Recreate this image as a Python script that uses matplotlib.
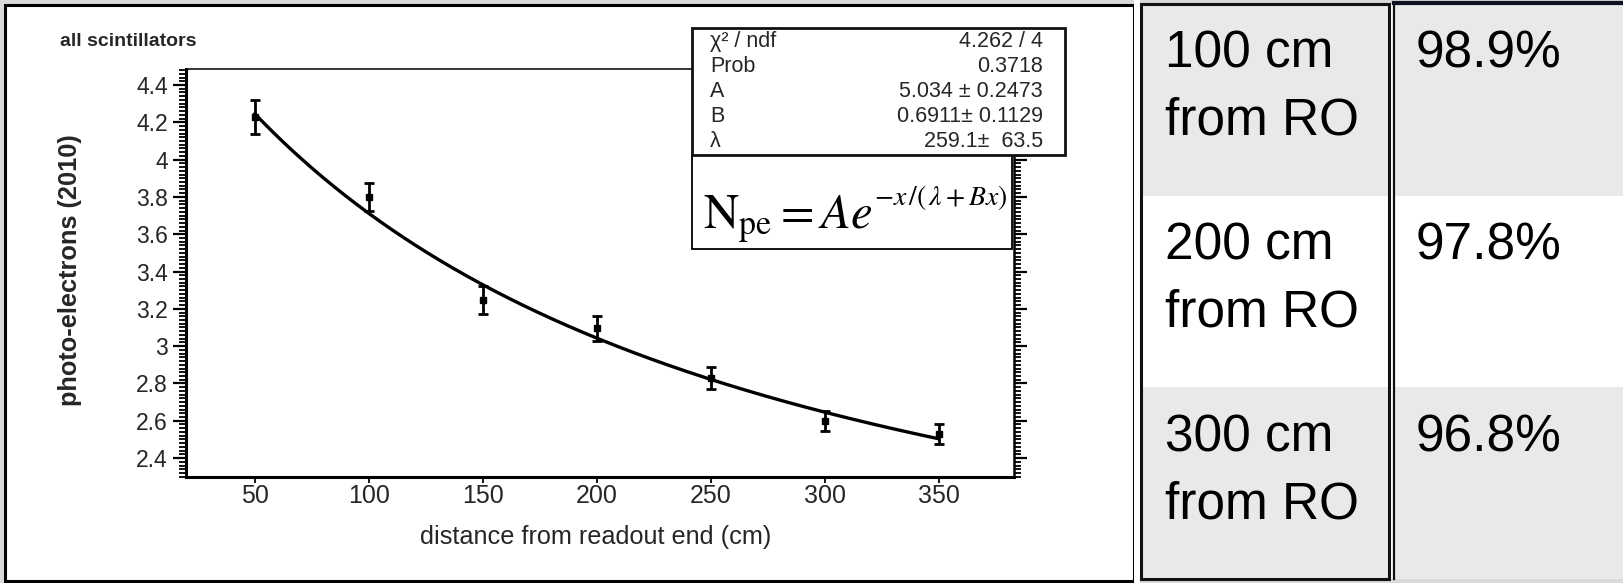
import numpy as np
import matplotlib
matplotlib.use('Agg')
import matplotlib.pyplot as plt
from matplotlib.patches import Rectangle
from matplotlib.ticker import MultipleLocator, FormatStrFormatter

# measured photo-electron yield vs distance from the readout end
distance_cm = [50, 100, 150, 200, 250, 300, 350]
photo_electrons = [4.227, 3.798, 3.25, 3.095, 2.829, 2.597, 2.530]
pe_errors = [0.091, 0.076, 0.075, 0.065, 0.061, 0.054, 0.055]

# fit result: N_pe = A * exp(-x / (lambda + B*x))
fit_A = 5.034
fit_B = 0.6911
fit_lambda = 259.1
stats_labels = ['χ² / ndf', 'Prob', 'A', 'B', 'λ']
stats_values = ['4.262 / 4', '0.3718', '5.034 ± 0.2473', '0.6911± 0.1129', '259.1±  63.5']

# efficiency table on the right
table_positions = ['100 cm\nfrom RO', '200 cm\nfrom RO', '300 cm\nfrom RO']
table_efficiency = ['98.9%', '97.8%', '96.8%']

plt.rcParams['font.family'] = ['Liberation Sans', 'DejaVu Sans']
plt.rcParams['mathtext.fontset'] = 'stix'

W, H = 1623, 583
fig = plt.figure(figsize=(W / 100, H / 100), dpi=100, facecolor='#d9d9d9')


def px_rect(x0, y0, x1, y1):
    # pixel box measured from the top-left corner -> figure fraction
    return [x0 / W, 1 - y1 / H, (x1 - x0) / W, (y1 - y0) / H]


# white panel around the plot (behind the axes)
fig.patches.append(Rectangle((5 / W, 2 / H), 1129 / W, 576 / H, transform=fig.transFigure,
                             facecolor='white', edgecolor='black', lw=2.2, zorder=-5))

AX_L, AX_T, AX_R, AX_B = 186, 69, 1014, 476.7
ax = fig.add_axes(px_rect(AX_L, AX_T, AX_R, AX_B))


def ax_xy(x, y):
    return (x - AX_L) / (AX_R - AX_L), (AX_B - y) / (AX_B - AX_T)


# fit curve
xs = np.linspace(distance_cm[0], distance_cm[-1], 300)
ys = fit_A * np.exp(-xs / (fit_lambda + fit_B * xs))
ax.plot(xs, ys, color='black', lw=2.4, zorder=3)

ax.errorbar(distance_cm, photo_electrons, yerr=pe_errors, fmt='s', ms=5, color='black',
            ecolor='black', elinewidth=2.0, capsize=3.5, capthick=2.0, zorder=4)

ax.set_xlim(19.8, 383)
ax.set_ylim(2.30, 4.486)
ax.xaxis.set_major_locator(MultipleLocator(50))
ax.yaxis.set_major_locator(MultipleLocator(0.2))
ax.yaxis.set_minor_locator(MultipleLocator(0.02))
ax.yaxis.set_major_formatter(FormatStrFormatter('%g'))

ax.tick_params(axis='y', which='both', direction='out', left=True, right=True,
               labelright=False, colors='black', labelcolor='#262626')
ax.tick_params(axis='y', which='major', length=9.5, width=1.6, labelsize=16.5, pad=3.5)
ax.tick_params(axis='y', which='minor', length=5, width=1.3)
ax.tick_params(axis='x', which='major', direction='out', length=4, width=1.3,
               labelsize=18, pad=1.5, labelcolor='#262626')
ax.tick_params(axis='x', which='minor', bottom=False)

ax.spines['left'].set_linewidth(2.2)
ax.spines['bottom'].set_linewidth(2.2)
ax.spines['right'].set_linewidth(1.8)
ax.spines['top'].set_linewidth(1.1)

ax.set_xlabel('distance from readout end (cm)', fontsize=18.2, color='#262626', va='center')
ax.xaxis.set_label_coords(*ax_xy(596, 536.7))
ax.set_ylabel('photo-electrons (2010)', fontsize=18.3, fontweight='bold', color='#262626',
              va='center')
ax.yaxis.set_label_coords(*ax_xy(70, 270))

fig.text(60 / W, 1 - 41 / H, 'all scintillators', fontsize=14, fontweight='bold',
         color='#262626', ha='left', va='center')

# stats box
sx0, sy0 = ax_xy(691.7, 155)
sx1, sy1 = ax_xy(1065, 28.3)
ax.add_patch(Rectangle((sx0, sy0), sx1 - sx0, sy1 - sy0, transform=ax.transAxes,
                       facecolor='white', edgecolor='#111111', lw=2.0, clip_on=False, zorder=10))
for i, (lab, val) in enumerate(zip(stats_labels, stats_values)):
    ry = 41.5 + i * 25
    ax.text(*ax_xy(710, ry), lab, transform=ax.transAxes, ha='left', va='center',
            fontsize=15.5, color='#262626', zorder=11)
    ax.text(*ax_xy(1043, ry), val, transform=ax.transAxes, ha='right', va='center',
            fontsize=15.5, color='#262626', zorder=11)

# formula box: base part large, exponent set separately a bit smaller
fx0, fy0 = ax_xy(691.7, 249.3)
fx1, fy1 = ax_xy(1012, 155)
ax.add_patch(Rectangle((fx0, fy0), fx1 - fx0, fy1 - fy0, transform=ax.transAxes,
                       facecolor='white', edgecolor='black', lw=1.3, clip_on=False, zorder=9))
base = ax.text(*ax_xy(703, 228), r'$\mathrm{N}_{\mathrm{pe}}=Ae$',
               transform=ax.transAxes, ha='left', va='baseline', fontsize=35,
               color='black', zorder=11)
renderer = fig.canvas.get_renderer()
bb = base.get_window_extent(renderer)
exp_x = ax.transAxes.inverted().transform((bb.x1 + 2, 0))[0]
ax.text(exp_x, ax_xy(0, 205)[1], r'$-x\,/(\,\lambda+Bx)$', transform=ax.transAxes,
        ha='left', va='baseline', fontsize=20, color='black', zorder=11)

# table on the right
TW, TH = 487, 575
tax = fig.add_axes(px_rect(1136, 4, 1136 + TW, 4 + TH))
tax.set_xlim(0, TW)
tax.set_ylim(TH, 0)
tax.axis('off')
row_h = TH / len(table_positions)
row_colors = ['#e9e9e9', 'white']
for i, (pos, eff) in enumerate(zip(table_positions, table_efficiency)):
    top = i * row_h
    tax.add_patch(Rectangle((0, top), TW, row_h, facecolor=row_colors[i % 2],
                            edgecolor='none', clip_on=False, zorder=1))
    for j, line in enumerate(pos.split('\n')):
        tax.text(29, top + 64 + j * 66.7, line, fontsize=37, va='baseline', ha='left',
                 color='black', zorder=3)
    tax.text(280, top + 64, eff, fontsize=37, va='baseline', ha='left', color='black', zorder=3)

tax.add_patch(Rectangle((-2, -4), 6, TH + 8, facecolor='white', edgecolor='none', clip_on=False, zorder=1))
tax.add_patch(Rectangle((252, 0), 6, TH, facecolor='white', edgecolor='none', clip_on=False, zorder=2))
tax.add_patch(Rectangle((4.5, 0), 248, TH, fill=False, edgecolor='#111111', lw=2.2,
                        clip_on=False, zorder=4))
tax.plot([258, 258], [0, TH], color='#111111', lw=1.6, clip_on=False, zorder=4)
tax.plot([258, TW], [-1.5, -1.5], color='#0d1325', lw=3, clip_on=False, zorder=4)

fig.savefig('out.png', dpi=100, facecolor=fig.get_facecolor())
